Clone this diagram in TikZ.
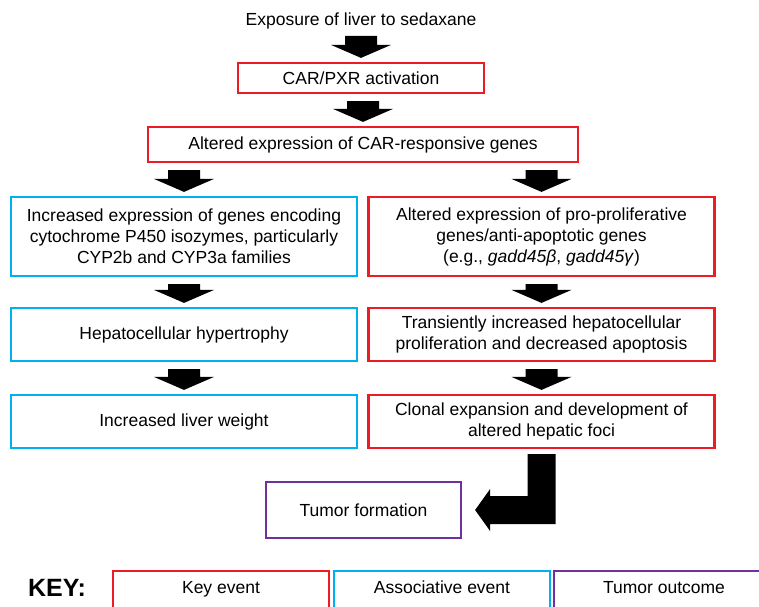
\documentclass[tikz,border=0pt]{standalone}
\usepackage{fontspec}
\setmainfont{Liberation Sans}
\usetikzlibrary{calc}

\definecolor{keyred}{RGB}{237,28,36}
\definecolor{assocblue}{RGB}{0,176,240}
\definecolor{outpurple}{RGB}{112,48,160}

% straight block arrow pointing down from node #1 to node #2
\newcommand\blockdown[2]{%
  \fill let \p1=(#1.south -| #2.north), \p2=(#2.north) in
    (\x1-16pt,\y1-7pt) -- (\x1+16pt,\y1-7pt) -- (\x1+16pt,\y2+17pt)
    -- (\x1+30pt,\y2+17pt) -- (\x1,\y2+4pt) -- (\x1-30pt,\y2+17pt)
    -- (\x1-16pt,\y2+17pt) -- cycle;}

\begin{document}
\begin{tikzpicture}[x=1pt,y=-1pt,
  every node/.style={font=\fontsize{17.5}{21}\selectfont, text=black},
  box/.style={draw=#1, line width=2.2pt, align=center, inner sep=0pt},
  widebox/.style={minimum width=346, minimum height=#1},
  keybox/.style={minimum height=40, text height=12.5pt, text depth=8pt}]

\clip (0,0) rectangle (759,606);
\fill[white] (0,0) rectangle (759,606);

% main chain
\node[inner sep=0pt] (expo) at (361,20.5) {Exposure of liver to sedaxane};
\node[box=keyred, minimum width=246, minimum height=30] (car) at (361,78) {CAR/PXR activation};
\node[box=keyred, minimum width=430, minimum height=35] (alt) at (363,144.5) {Altered expression of CAR-responsive genes};

% associative branch
\node[box=assocblue, widebox=79] (cyp) at (184,236.5) {Increased expression of genes encoding\\cytochrome P450 isozymes, particularly\\CYP2b and CYP3a families};
\node[box=assocblue, widebox=53] (hyp) at (184,334.5) {Hepatocellular hypertrophy};
\node[box=assocblue, widebox=53] (lw) at (184,421.5) {Increased liver weight};

% key-event branch
\node[box=keyred, widebox=79] (pro) at (541.5,236.5) {Altered expression of pro-proliferative\\genes/anti-apoptotic genes\\(e.g., \textit{gadd45β}, \textit{gadd45γ})};
\node[box=keyred, widebox=53] (tra) at (541.5,334.5) {Transiently increased hepatocellular\\proliferation and decreased apoptosis};
\node[box=keyred, widebox=53] (clo) at (541.5,421.5) {Clonal expansion and development of\\altered hepatic foci};

% outcome
\node[box=outpurple, minimum width=195, minimum height=56] (tum) at (363.5,510) {Tumor formation};

% block arrows
\blockdown{expo}{car}
\blockdown{car}{alt}
\blockdown{alt}{cyp}
\blockdown{alt}{pro}
\blockdown{cyp}{hyp}
\blockdown{hyp}{lw}
\blockdown{pro}{tra}
\blockdown{tra}{clo}

% elbow arrow into the outcome box
\fill let \p1=(clo.south), \p2=(tum.east) in
  (\x1-14pt,\y1-5pt) -- (\x1+14pt,\y1-5pt) -- (\x1+14pt,\y2-14pt)
  -- (\x2+28pt,\y2-14pt) -- (\x2+28pt,\y2-21pt) -- (\x2+13pt,\y2)
  -- (\x2+28pt,\y2+21pt) -- (\x2+28pt,\y2+14pt) -- (\x1-14pt,\y2+14pt) -- cycle;

% legend
\node[inner sep=0pt, font=\bfseries\fontsize{25}{28}\selectfont] (key) at (57,588) {KEY:};
\node[box=keyred, keybox, minimum width=216] (kev) at (221,591) {Key event};
\node[box=assocblue, keybox, minimum width=216] (kas) at (442,591) {Associative event};
\node[box=outpurple, keybox, minimum width=220] (kout) at (664,591) {Tumor outcome};

\end{tikzpicture}
\end{document}
